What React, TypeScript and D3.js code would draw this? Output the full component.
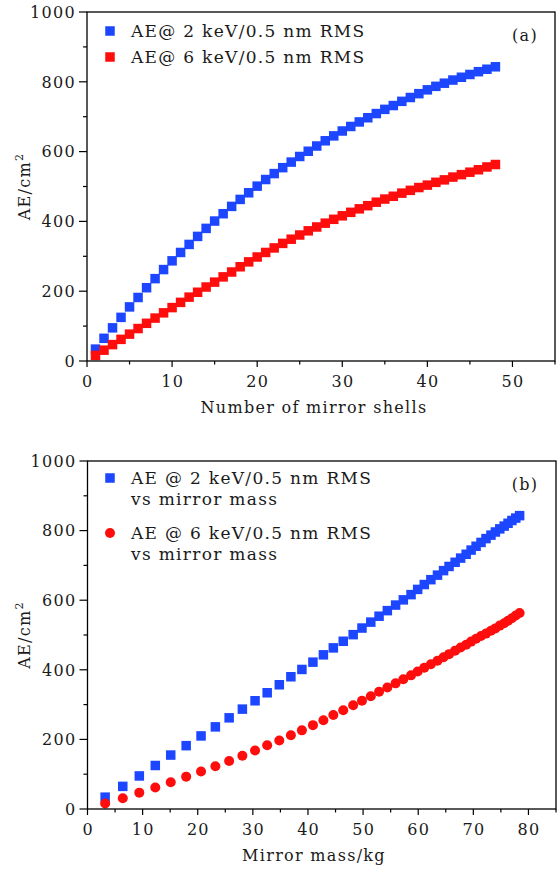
import React from 'react';
import * as d3 from 'd3';

// number of mirror shells (x of panel a)
const shells = [
  1, 2, 3, 4, 5, 6, 7, 8, 9, 10, 11, 12, 13, 14, 15, 16, 17, 18, 19, 20, 21, 22, 23, 24,
  25, 26, 27, 28, 29, 30, 31, 32, 33, 34, 35, 36, 37, 38, 39, 40, 41, 42, 43, 44, 45, 46, 47, 48,
];
// effective area, cm^2, 2 keV / 0.5 nm RMS
const ae2keV = [
  34, 65, 95, 125, 155, 182, 210, 236, 262, 287, 311, 334, 357, 380, 401, 422, 443, 463, 482, 501,
  520, 537, 554, 570, 586, 601, 616, 631, 645, 659, 672, 685, 697, 709, 721, 732, 744, 755, 766, 777,
  787, 796, 805, 813, 821, 829, 836, 843,
];
// effective area, cm^2, 6 keV / 0.5 nm RMS
const ae6keV = [
  16, 31, 47, 62, 77, 93, 108, 123, 138, 153, 168, 183, 197, 212, 226, 241, 255, 270, 284, 298,
  311, 324, 337, 349, 361, 373, 384, 395, 406, 416, 426, 436, 445, 455, 464, 472, 481, 489, 497, 504,
  512, 519, 527, 534, 541, 548, 556, 563,
];
// cumulative mirror mass, kg (x of panel b)
const mirrorMass = [
  3.2, 6.4, 9.4, 12.3, 15.1, 17.9, 20.6, 23.2, 25.7, 28.1, 30.4, 32.6, 34.8, 36.9, 38.9, 40.9,
  42.8, 44.6, 46.4, 48.2, 49.8, 51.4, 52.9, 54.4, 55.9, 57.3, 58.7, 59.9, 61.1, 62.3, 63.5, 64.6,
  65.6, 66.7, 67.7, 68.7, 69.6, 70.5, 71.4, 72.3, 73.2, 74.0, 74.8, 75.6, 76.3, 77.0, 77.7, 78.4,
];
const aeTicks = [0, 200, 400, 600, 800, 1000];
const shellTicks = [0, 10, 20, 30, 40, 50];
const massTicks = [0, 10, 20, 30, 40, 50, 60, 70, 80];

const FONT = 'DejaVu Serif, serif';
const BLUE = '#1c46ff';
const RED = '#ff0d0d';
const FS = 16;
const LS = 1.3;

type Series = { xs: number[]; ys: number[]; color: string; shape: 'square' | 'circle' };
type LegendItem = { shape: 'square' | 'circle'; color: string; y: number; lines: string[] };

function Marker({ shape, color, cx, cy }: { shape: string; color: string; cx: number; cy: number }) {
  if (shape === 'circle') return <circle cx={cx} cy={cy} r={5} fill={color} />;
  const s = 9.5;
  return <rect x={cx - s / 2} y={cy - s / 2} width={s} height={s} fill={color} />;
}

function Panel(props: {
  top: number; bottom: number; left: number; right: number; xMax: number;
  xTicks: number[]; xLabel: string; tag: string; series: Series[]; legend: LegendItem[];
}) {
  const { top, bottom, left, right, xMax, xTicks, xLabel, tag, series, legend } = props;
  const x = d3.scaleLinear().domain([0, xMax]).range([left, right]);
  const y = d3.scaleLinear().domain([0, 1000]).range([bottom, top]);
  const xMinor = d3.range(0, xMax + 0.01, 5).filter((v) => !xTicks.includes(v));
  const yMinor = d3.range(0, 1001, 100).filter((v) => !aeTicks.includes(v));
  const midY = (top + bottom) / 2;
  const midX = 314;

  return (
    <g style={{ fontFamily: FONT, fontSize: FS, letterSpacing: LS }} fill="#1a1a1a">
      {series.map((s, si) => (
        <g key={si}>
          {s.xs.map((v, i) => (
            <Marker key={i} shape={s.shape} color={s.color} cx={x(v)} cy={y(s.ys[i])} />
          ))}
        </g>
      ))}
      <rect x={left} y={top} width={right - left} height={bottom - top} fill="none" stroke="#000" strokeWidth={1.3} />
      {aeTicks.map((t) => (
        <g key={'y' + t}>
          <line x1={left - 8} x2={left} y1={y(t)} y2={y(t)} stroke="#000" strokeWidth={1.2} />
          <text x={left - 11} y={y(t)} dy="0.36em" textAnchor="end">{t}</text>
        </g>
      ))}
      {yMinor.map((t) => (
        <line key={'ym' + t} x1={left - 4} x2={left} y1={y(t)} y2={y(t)} stroke="#000" strokeWidth={1.2} />
      ))}
      {xTicks.map((t) => (
        <g key={'x' + t}>
          <line x1={x(t)} x2={x(t)} y1={bottom} y2={bottom + 6} stroke="#000" strokeWidth={1.2} />
          <text x={x(t) + LS / 2} y={bottom + 26} textAnchor="middle">{t}</text>
        </g>
      ))}
      {xMinor.map((t) => (
        <line key={'xm' + t} x1={x(t)} x2={x(t)} y1={bottom} y2={bottom + 3.5} stroke="#000" strokeWidth={1.2} />
      ))}
      <text x={midX} y={bottom + 52} textAnchor="middle">{xLabel}</text>
      <text transform={`translate(30,${midY}) rotate(-90)`} textAnchor="middle">
        AE/cm<tspan fontSize={11} dy={-7}>2</tspan>
      </text>
      <text x={525} y={top + 29} textAnchor="middle">{tag}</text>
      {legend.map((it, i) => (
        <g key={'l' + i}>
          <Marker shape={it.shape} color={it.color} cx={110} cy={it.y} />
          {it.lines.map((ln, j) => (
            <text key={j} x={131} y={it.y + 5.5 + j * 21} fontSize={17}>{ln}</text>
          ))}
        </g>
      ))}
    </g>
  );
}

export default function App() {
  return (
    <div>
      <style>{'body{margin:0;background:#fff}'}</style>
      <svg width={560} height={870} style={{ display: 'block' }}>
        <rect width={560} height={870} fill="#fff" />
        <Panel
          top={12} bottom={361} left={87} right={555} xMax={55}
          xTicks={shellTicks} xLabel="Number of mirror shells" tag="(a)"
          series={[
            { xs: shells, ys: ae2keV, color: BLUE, shape: 'square' },
            { xs: shells, ys: ae6keV, color: RED, shape: 'square' },
          ]}
          legend={[
            { shape: 'square', color: BLUE, y: 31, lines: ['AE@ 2 keV/0.5 nm RMS'] },
            { shape: 'square', color: RED, y: 57, lines: ['AE@ 6 keV/0.5 nm RMS'] },
          ]}
        />
        <Panel
          top={461} bottom={809} left={87.5} right={556} xMax={85}
          xTicks={massTicks} xLabel="Mirror mass/kg" tag="(b)"
          series={[
            { xs: mirrorMass, ys: ae2keV, color: BLUE, shape: 'square' },
            { xs: mirrorMass, ys: ae6keV, color: RED, shape: 'circle' },
          ]}
          legend={[
            { shape: 'square', color: BLUE, y: 478, lines: ['AE @ 2 keV/0.5 nm RMS', 'vs mirror mass'] },
            { shape: 'circle', color: RED, y: 533, lines: ['AE @ 6 keV/0.5 nm RMS', 'vs mirror mass'] },
          ]}
        />
      </svg>
    </div>
  );
}
